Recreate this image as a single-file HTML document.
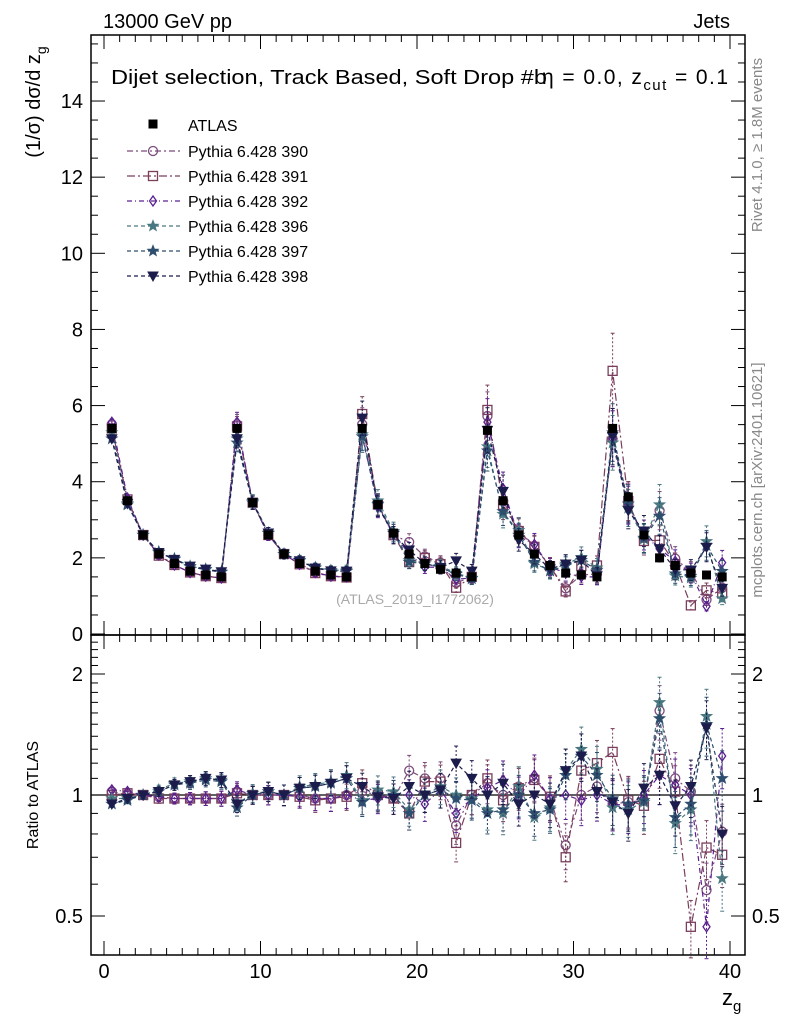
<!DOCTYPE html>
<html><head><meta charset="utf-8"><style>
body{margin:0;background:#fff;font-family:"Liberation Sans",sans-serif}
svg text{font-family:"Liberation Sans","DejaVu Sans",sans-serif}
</style></head><body>
<svg id="c" width="786" height="1024" xmlns="http://www.w3.org/2000/svg"></svg>
<script>
const bins=[0.5,1.5,2.5,3.5,4.5,5.5,6.5,7.5,8.5,9.5,10.5,11.5,12.5,13.5,14.5,15.5,16.5,17.5,18.5,19.5,20.5,21.5,22.5,23.5,24.5,25.5,26.5,27.5,28.5,29.5,30.5,31.5,32.5,33.5,34.5,35.5,36.5,37.5,38.5,39.5];
const atlas=[5.4,3.5,2.6,2.1,1.85,1.65,1.55,1.5,5.4,3.45,2.6,2.1,1.85,1.65,1.55,1.5,5.4,3.4,2.65,2.1,1.85,1.7,1.6,1.5,5.35,3.5,2.6,2.1,1.8,1.6,1.55,1.5,5.4,3.6,2.6,2.0,1.8,1.6,1.55,1.5];
const r390=[1.02,1.0,1.0,0.99,0.98,0.98,0.98,0.98,1.02,1.0,1.0,1.0,1.0,0.98,0.98,1.0,1.02,1.0,0.98,1.15,1.1,1.1,0.84,1.0,1.07,1.0,1.05,1.1,0.98,0.75,1.0,1.05,0.95,0.96,0.97,1.62,1.1,1.02,0.58,0.81];
const r391=[1.0,1.01,1.0,0.98,0.98,0.98,0.98,0.98,1.01,1.0,1.0,1.0,0.99,0.97,0.98,0.99,1.07,1.0,0.98,0.9,1.08,1.08,0.76,1.0,1.1,0.97,1.04,1.09,0.99,0.7,1.15,1.2,1.28,0.97,0.94,1.23,1.02,0.47,0.74,0.71];
const r392=[1.03,1.02,1.0,0.99,0.98,0.98,0.98,0.98,1.03,1.0,1.0,1.0,0.99,0.98,0.98,1.0,0.97,0.98,1.0,1.0,0.95,1.03,0.9,0.98,1.04,1.09,0.99,1.12,0.98,1.0,0.97,1.0,0.95,0.94,1.0,1.12,1.06,1.0,0.47,1.25];
const r396=[0.98,0.98,1.0,1.03,1.07,1.08,1.1,1.09,0.95,1.01,1.02,1.0,1.05,1.06,1.08,1.12,0.97,1.03,1.02,0.92,1.0,1.05,1.0,0.98,0.92,0.9,1.05,0.88,0.93,1.15,1.3,1.16,0.93,0.92,0.96,1.7,0.85,0.92,1.57,0.62];
const r397=[0.95,0.97,1.0,1.02,1.06,1.07,1.09,1.08,0.93,1.0,1.02,1.0,1.04,1.05,1.07,1.1,0.96,1.0,1.0,0.9,1.0,1.03,0.98,0.97,0.9,0.92,1.0,0.9,0.92,1.12,1.25,1.12,0.98,0.95,0.97,1.55,0.88,0.95,1.5,1.1];
const r398=[0.95,0.98,1.0,1.02,1.06,1.08,1.1,1.09,0.95,1.0,1.02,1.0,1.04,1.05,1.07,1.1,1.05,0.99,0.98,1.05,1.0,1.03,1.2,1.1,1.0,1.07,0.95,1.0,0.95,1.15,1.25,1.02,0.96,0.9,1.04,1.12,0.94,1.05,1.47,0.8];
const seriesNames=['Pythia 6.428 390','Pythia 6.428 391','Pythia 6.428 392','Pythia 6.428 396','Pythia 6.428 397','Pythia 6.428 398'];
const ratios=[r390,r391,r392,r396,r397,r398];
const xTicks=[0,10,20,30,40];
const yTicks=[0,2,4,6,8,10,12,14];
const rTicks=[0.5,1,2];

const NS='http://www.w3.org/2000/svg';
const svg=document.getElementById('c');
function el(t,a,p){const e=document.createElementNS(NS,t);for(const k in a)e.setAttribute(k,a[k]);(p||svg).appendChild(e);return e;}
const L=91,R=745,T=35,M=635,B=955;
const X=v=>104+v*15.65;
const Y=v=>634-v*38.07;
const YR=v=>795-Math.log2(v)*121;
const styles=[
{c:'#7b4b7b',m:'circle',f:'none',d:'6,3,2,3'},
{c:'#7a3e5c',m:'square',f:'none',d:'8,3,2,3'},
{c:'#5a2090',m:'diamond',f:'none',d:'5,3,1,3'},
{c:'#4a7880',m:'star',f:'#4a7880',d:'4,3'},
{c:'#2e4e6e',m:'star',f:'#2e4e6e',d:'4,3'},
{c:'#1c1c4c',m:'tri',f:'#1c1c4c',d:'4,3'}];
function marker(g,m,x,y,c,f){
 if(m==='circle')return el('circle',{cx:x,cy:y,r:4.5,fill:f,stroke:c,'stroke-width':1.3},g);
 if(m==='square')return el('rect',{x:x-4.5,y:y-4.5,width:9,height:9,fill:f,stroke:c,'stroke-width':1.3},g);
 if(m==='diamond')return el('polygon',{points:`${x},${y-5} ${x+3.5},${y} ${x},${y+5} ${x-3.5},${y}`,fill:f,stroke:c,'stroke-width':1.3},g);
 if(m==='tri')return el('polygon',{points:`${x-5},${y-4} ${x+5},${y-4} ${x},${y+5}`,fill:f,stroke:c},g);
 if(m==='star'){let p=[];for(let i=0;i<10;i++){const a=-Math.PI/2+i*Math.PI/5,rr=i%2?2.3:5.5;p.push((x+rr*Math.cos(a)).toFixed(1)+','+(y+rr*Math.sin(a)).toFixed(1));}return el('polygon',{points:p.join(' '),fill:f,stroke:c},g);}
 if(m==='fsq')return el('rect',{x:x-4.5,y:y-4.5,width:9,height:9,fill:c},g);
}
el('rect',{x:L,y:T,width:R-L,height:M-T,fill:'none',stroke:'#000','stroke-width':1.5,});
el('rect',{x:L,y:M,width:R-L,height:B-M,fill:'none',stroke:'#000','stroke-width':1.5,});
for(let v=0;v<=41;v++){const x=X(v);if(x<L||x>R)continue;const big=v%10===0,len=big?14:7;
 [[T,1],[M,-1],[M,1],[B,-1]].forEach(([y0,s])=>el('line',{x1:x,x2:x,y1:y0,y2:y0+s*len,stroke:'#000'}));}
xTicks.forEach(v=>{const t=el('text',{x:X(v),y:978,'font-size':20,'text-anchor':'middle',});t.textContent=v;});
for(let v=0;v<=15.6;v+=0.5){const y=Y(v);if(y<T)continue;const big=Math.abs(v%2)<1e-6,len=big?14:7;
 el('line',{x1:L,x2:L+len,y1:y,y2:y,stroke:'#000'});el('line',{x1:R,x2:R-len,y1:y,y2:y,stroke:'#000'});}
yTicks.forEach(v=>{const t=el('text',{x:83,y:Y(v)+7,'font-size':20,'text-anchor':'end',});t.textContent=v;});
for(let v=0.4;v<=2.5;v+=0.1){const y=YR(v);if(y<M||y>B)continue;const big=[0.5,1,2].some(q=>Math.abs(q-v)<1e-6),len=big?14:7;
 el('line',{x1:L,x2:L+len,y1:y,y2:y,stroke:'#000'});el('line',{x1:R,x2:R-len,y1:y,y2:y,stroke:'#000'});}
rTicks.forEach(v=>{[[83,'end'],[752,'start']].forEach(([x,a])=>{const t=el('text',{x:x,y:YR(v)+7,'font-size':20,'text-anchor':a,});t.textContent=v;});});
el('line',{x1:L,x2:R,y1:YR(1),y2:YR(1),stroke:'#000','stroke-width':1.3,});
ratios.forEach((rs,si)=>{const s=styles[si];const g=el('g',{});
 const mp=[],rp=[];
 bins.forEach((b,i)=>{const v=atlas[i]*rs[i];const e=0.015+0.004*i;mp.push([X(b),Y(v),Y(v*(1+e)),Y(v*(1-e))]);rp.push([X(b),YR(rs[i]),YR(rs[i]*(1+e)),YR(Math.max(0.3,rs[i]*(1-e)))]);});
 [mp,rp].forEach(pts=>{
  el('polyline',{points:pts.map(p=>p[0].toFixed(1)+','+p[1].toFixed(1)).join(' '),fill:'none',stroke:s.c,'stroke-width':1.2,'stroke-dasharray':s.d},g);
  pts.forEach(p=>{el('line',{x1:p[0],x2:p[0],y1:p[2],y2:p[3],stroke:s.c,'stroke-dasharray':'2,2'},g);
   el('line',{x1:p[0]-2,x2:p[0]+2,y1:p[2],y2:p[2],stroke:s.c},g);el('line',{x1:p[0]-2,x2:p[0]+2,y1:p[3],y2:p[3],stroke:s.c},g);
   const m=marker(g,s.m,p[0],p[1],s.c,s.f);});
 });});
const ga=el('g',{});
bins.forEach((b,i)=>{const m=marker(ga,'fsq',X(b),Y(atlas[i]),'#000');});
const lg=el('g',{});
marker(lg,'fsq',153,124,'#000');
let t=el('text',{x:188,y:131,'font-size':16},lg);t.textContent='ATLAS';
styles.forEach((s,i)=>{const y=151+i*25;
 el('line',{x1:127,x2:180,y1:y,y2:y,stroke:s.c,'stroke-dasharray':s.d,'stroke-width':1.2},lg);
 marker(lg,s.m,153,y,s.c,s.f);
 const tt=el('text',{x:188,y:y+6,'font-size':16,},lg);tt.textContent=seriesNames[i];});
function txt(x,y,s,str,extra){const e=el('text',Object.assign({x:x,y:y,'font-size':s},extra||{}));e.innerHTML=str;return e;}
txt(103,28,20,'13000 GeV pp',{});
txt(730,28,20,'Jets',{'text-anchor':'end',});
txt(111,84,20,'Dijet selection, Track Based, Soft Drop #b',{textLength:436,lengthAdjust:'spacingAndGlyphs',});
txt(542,84,21,'η = 0.0, z<tspan font-size="15" dy="6">cut</tspan><tspan dy="-6"> = 0.1</tspan>',{textLength:186,lengthAdjust:'spacing',});
txt(415,604,14,'(ATLAS_2019_I1772062)',{'text-anchor':'middle',fill:'#aaa',});
txt(0,0,20,'(1/σ) dσ/d z<tspan font-size="14" dy="6">g</tspan>',{transform:'translate(40,102) rotate(-90)','text-anchor':'middle',});
txt(0,0,16,'Ratio to ATLAS',{transform:'translate(38,795) rotate(-90)','text-anchor':'middle',});
txt(722,1005,22,'z<tspan font-size="15" dy="6">g</tspan>',{});
txt(0,0,15,'Rivet 4.1.0, ≥ 1.8M events',{transform:'translate(762,145) rotate(-90)','text-anchor':'middle',fill:'#888',});
txt(0,0,15,'mcplots.cern.ch [arXiv:2401.10621]',{transform:'translate(762,480) rotate(-90)','text-anchor':'middle',fill:'#888',});
</script>
</body></html>
